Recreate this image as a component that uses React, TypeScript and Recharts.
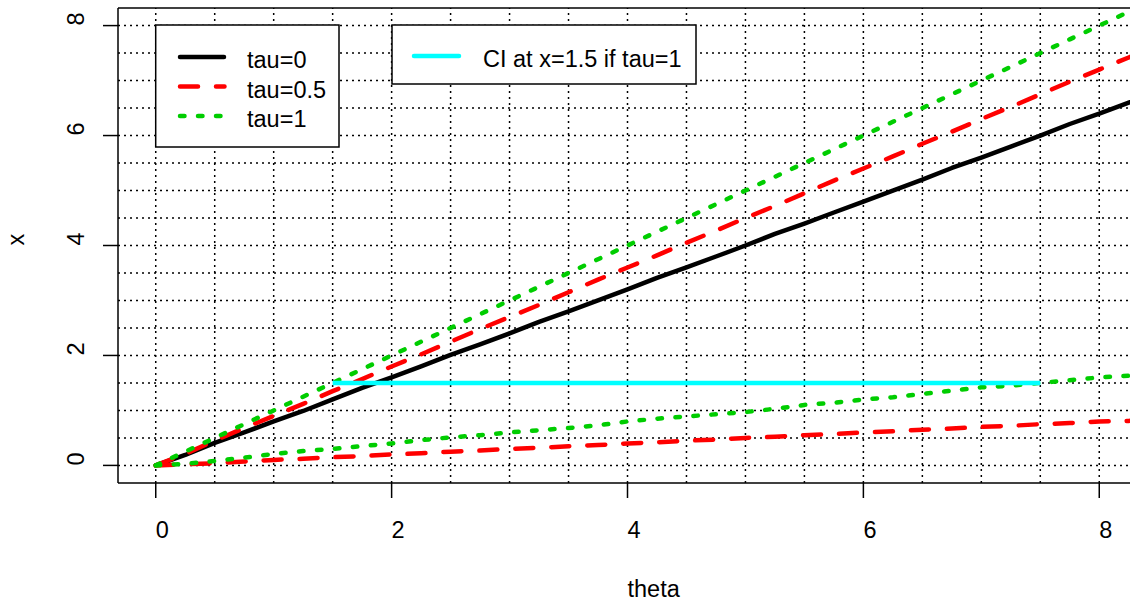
import { Line, LineChart, ReferenceLine, XAxis, YAxis } from "recharts";

// values (theta step 0.25)
const theta = [
  0, 0.25, 0.5, 0.75, 1, 1.25, 1.5, 1.75, 2, 2.25, 2.5, 2.75, 3, 3.25, 3.5, 3.75, 4, 4.25, 4.5, 4.75, 5, 5.25,
  5.5, 5.75, 6, 6.25, 6.5, 6.75, 7, 7.25, 7.5, 7.75, 8, 8.25, 8.5,
];
const tau0 = [
  0, 0.19, 0.41, 0.6, 0.8, 0.99, 1.2, 1.41, 1.6, 1.8, 2.01, 2.2, 2.4, 2.61, 2.8, 3.0, 3.2, 3.41, 3.6, 3.8, 4.0,
  4.21, 4.4, 4.6, 4.8, 5.0, 5.2, 5.41, 5.6, 5.8, 6.0, 6.21, 6.4, 6.6, 6.8,
];
const tau05Upper = [
  0, 0.21, 0.45, 0.68, 0.9, 1.12, 1.35, 1.57, 1.8, 2.02, 2.25, 2.48, 2.7, 2.92, 3.15, 3.38, 3.6, 3.82, 4.05, 4.27,
  4.5, 4.72, 4.95, 5.18, 5.4, 5.62, 5.85, 6.07, 6.3, 6.52, 6.75, 6.98, 7.2, 7.42, 7.65,
];
const tau05Lower = [
  0, 0.02, 0.04, 0.07, 0.1, 0.12, 0.15, 0.17, 0.2, 0.22, 0.25, 0.27, 0.3, 0.32, 0.35, 0.37, 0.4, 0.42, 0.45, 0.47,
  0.5, 0.52, 0.55, 0.57, 0.6, 0.62, 0.65, 0.67, 0.7, 0.72, 0.75, 0.77, 0.8, 0.81, 0.83,
];
const tau1Upper = [
  0, 0.25, 0.5, 0.75, 1.0, 1.25, 1.5, 1.75, 2.0, 2.25, 2.5, 2.75, 3.0, 3.25, 3.5, 3.75, 4.0, 4.25, 4.5, 4.75, 5.0,
  5.25, 5.5, 5.75, 6.0, 6.25, 6.5, 6.75, 7.0, 7.25, 7.5, 7.75, 8.0, 8.25, 8.5,
];
const tau1Lower = [
  0, 0.03, 0.08, 0.14, 0.21, 0.26, 0.3, 0.35, 0.4, 0.46, 0.51, 0.55, 0.6, 0.64, 0.68, 0.73, 0.8, 0.85, 0.89, 0.93,
  0.97, 1.03, 1.1, 1.14, 1.2, 1.24, 1.3, 1.36, 1.42, 1.45, 1.5, 1.55, 1.6, 1.63, 1.68,
];

// CI at x = 1.5 if tau = 1
const ciLevel = 1.5;
const ciFrom = 1.5;
const ciTo = 7.5;

const xTicks = [0, 2, 4, 6, 8];
const yTicks = [0, 2, 4, 6, 8];
const gridX = [0, 0.5, 1, 1.5, 2, 2.5, 3, 3.5, 4, 4.5, 5, 5.5, 6, 6.5, 7, 7.5, 8];
const gridY = [0, 0.5, 1, 1.5, 2, 2.5, 3, 3.5, 4, 4.5, 5, 5.5, 6, 6.5, 7, 7.5, 8];

const DOMAIN: [number, number] = [-0.32, 8.32];

const rows = theta.map((t, i) => ({
  theta: t,
  tau0: tau0[i],
  tau05Upper: tau05Upper[i],
  tau05Lower: tau05Lower[i],
  tau1Upper: tau1Upper[i],
  tau1Lower: tau1Lower[i],
  ci: t >= ciFrom && t <= ciTo ? ciLevel : null,
}));

const FONT = "'Liberation Sans', Arial, sans-serif";
const FS = 23.5;
const LW = 4.5;
const RED = "#FF0000";
const GREEN = "#00CD00";
const CYAN = "#00FFFF";

function XTick(p: any) {
  return (
    <text x={p.x} y={538} fontFamily={FONT} fontSize={FS} fill="#000" textAnchor="start">
      {p.payload.value}
    </text>
  );
}

function YTick(p: any) {
  return (
    <text
      x={84}
      y={p.y}
      transform={`rotate(-90, 84, ${p.y})`}
      fontFamily={FONT}
      fontSize={FS}
      fill="#000"
      textAnchor="start"
    >
      {p.payload.value}
    </text>
  );
}

function AxisTitles() {
  return (
    <g fontFamily={FONT} fontSize={FS} fill="#000">
      <text x={627.5} y={597}>theta</text>
      <text x={24} y={245.5} transform="rotate(-90, 24, 245.5)">
        x
      </text>
    </g>
  );
}

// legend boxes sit above the grid, so they go in an overlay
function Legends() {
  return (
    <svg
      width={1130}
      height={602}
      style={{ position: "absolute", left: 0, top: 0, pointerEvents: "none" }}
    >
      <g fontFamily={FONT} fontSize={FS} fill="#000">
        <rect x={155.7} y={25} width={183.3} height={122} fill="#fff" stroke="#000" strokeWidth={1.5} />
        <line x1={180} x2={224} y1={57} y2={57} stroke="#000" strokeWidth={LW} strokeLinecap="round" />
        <line
          x1={180}
          x2={224.5}
          y1={86.5}
          y2={86.5}
          stroke={RED}
          strokeWidth={LW}
          strokeDasharray="18 18"
          strokeLinecap="round"
        />
        <line
          x1={180}
          x2={224.5}
          y1={116}
          y2={116}
          stroke={GREEN}
          strokeWidth={LW}
          strokeDasharray="4.5 13.5"
          strokeLinecap="round"
        />
        <text x={247} y={68}>tau=0</text>
        <text x={247} y={97.5}>tau=0.5</text>
        <text x={247} y={127}>tau=1</text>

        <rect x={392} y={25} width={304} height={59} fill="#fff" stroke="#000" strokeWidth={1.5} />
        <line x1={414} x2={459} y1={56} y2={56} stroke={CYAN} strokeWidth={LW} strokeLinecap="round" />
        <text x={483} y={67}>CI at x=1.5 if tau=1</text>
      </g>
    </svg>
  );
}

export default function App() {
  const grid = { stroke: "#000", strokeWidth: 1.5, strokeDasharray: "2 4" };
  return (
    <div
      style={{
        position: "fixed",
        left: 0,
        top: 0,
        width: 1130,
        height: 602,
        overflow: "hidden",
        background: "#fff",
      }}
    >
      <LineChart width={1150} height={602} data={rows} margin={{ top: 8, right: 13, bottom: 0, left: 0 }}>
        <XAxis
          type="number"
          dataKey="theta"
          domain={DOMAIN}
          ticks={xTicks}
          allowDataOverflow
          height={119}
          tickSize={15}
          axisLine={{ stroke: "#000", strokeWidth: 1.5 }}
          tickLine={{ stroke: "#000", strokeWidth: 1.5 }}
          tick={XTick}
        />
        <YAxis
          type="number"
          domain={DOMAIN}
          ticks={yTicks}
          allowDataOverflow
          width={118}
          tickSize={15}
          axisLine={{ stroke: "#000", strokeWidth: 1.5 }}
          tickLine={{ stroke: "#000", strokeWidth: 1.5 }}
          tick={YTick}
        />
        {gridX.map((v) => (
          <ReferenceLine key={`gx${v}`} x={v} {...grid} />
        ))}
        {gridY.map((v) => (
          <ReferenceLine key={`gy${v}`} y={v} {...grid} />
        ))}
        <ReferenceLine y={DOMAIN[1]} stroke="#000" strokeWidth={1.5} />

        <Line
          type="linear"
          dataKey="tau0"
          stroke="#000"
          strokeWidth={LW}
          strokeLinecap="round"
          strokeLinejoin="round"
          dot={false}
          activeDot={false}
          isAnimationActive={false}
        />
        <Line
          type="linear"
          dataKey="tau05Upper"
          stroke={RED}
          strokeWidth={LW}
          strokeDasharray="18 18"
          strokeLinecap="round"
          dot={false}
          activeDot={false}
          isAnimationActive={false}
        />
        <Line
          type="linear"
          dataKey="tau05Lower"
          stroke={RED}
          strokeWidth={LW}
          strokeDasharray="18 18"
          strokeLinecap="round"
          dot={false}
          activeDot={false}
          isAnimationActive={false}
        />
        <Line
          type="linear"
          dataKey="tau1Upper"
          stroke={GREEN}
          strokeWidth={LW}
          strokeDasharray="4.5 13.5"
          strokeLinecap="round"
          dot={false}
          activeDot={false}
          isAnimationActive={false}
        />
        <Line
          type="linear"
          dataKey="tau1Lower"
          stroke={GREEN}
          strokeWidth={LW}
          strokeDasharray="4.5 13.5"
          strokeLinecap="round"
          dot={false}
          activeDot={false}
          isAnimationActive={false}
        />
        <Line
          type="linear"
          dataKey="ci"
          stroke={CYAN}
          strokeWidth={LW}
          dot={false}
          activeDot={false}
          isAnimationActive={false}
        />
        <AxisTitles />
      </LineChart>
      <Legends />
    </div>
  );
}
